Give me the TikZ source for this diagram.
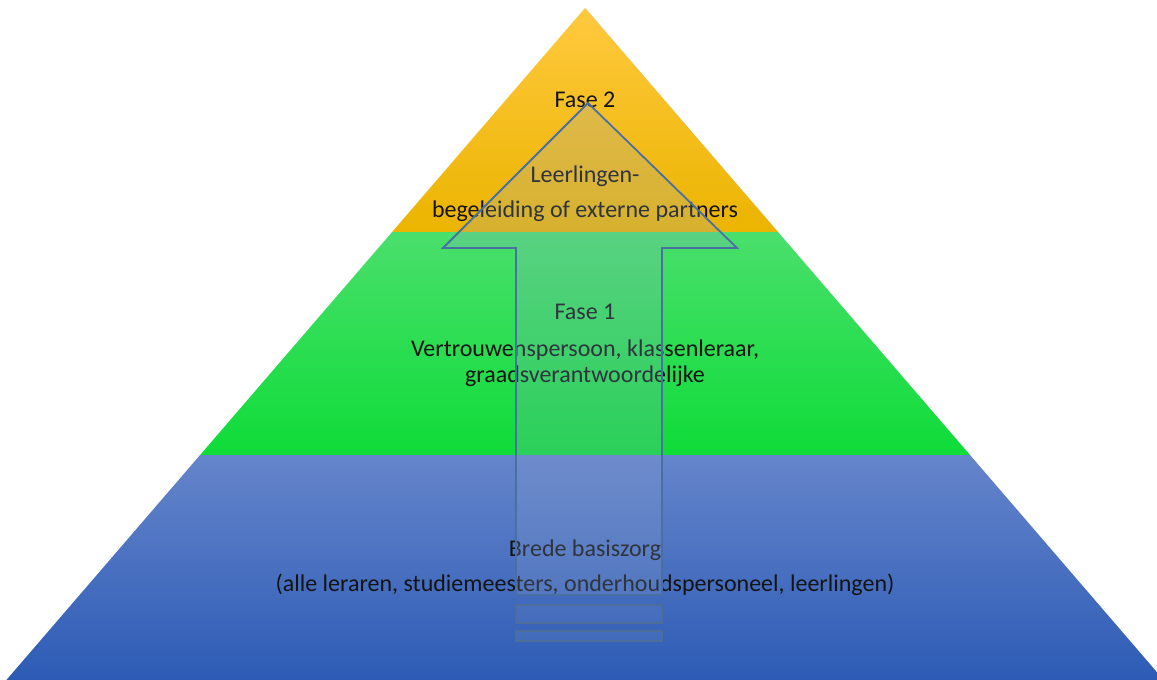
\documentclass[tikz,border=0pt]{standalone}
\usepackage{fontspec}
\setmainfont{Carlito}
\begin{document}
\begin{tikzpicture}[x=1pt,y=-1pt,
  lbl/.style={font=\fontsize{24}{28}\selectfont, text=black!92, inner sep=0pt, anchor=center},
  arrowline/.style={draw=arrowblue, line width=1.8pt, line join=miter},
  stripe/.style={draw=arrowgray, line width=1.8pt}]
\definecolor{orT}{HTML}{FFC93F}
\definecolor{orM}{HTML}{FFC000}
\definecolor{orB}{HTML}{EBB400}
\definecolor{grT}{HTML}{4ADF6C}
\definecolor{grB}{HTML}{0EDC38}
\definecolor{blT}{HTML}{6585CB}
\definecolor{blB}{HTML}{2D5BB5}
\definecolor{arrowblue}{HTML}{4A6FA5}
\definecolor{arrowgray}{HTML}{4D6E98}
\definecolor{arrowfill}{HTML}{8FA6D0}
\useasboundingbox (0,0) rectangle (1157,680);
\begin{scope}
\clip (0,0) rectangle (1157,680);
% shadow
\fill[black!22] (586.5,9.5) -- (1165,681.5) -- (8,681.5) -- cycle;
% bands
\shade[top color=orT, middle color=orM, bottom color=orB] (585,8) -- (777.9,232) -- (392.1,232) -- cycle;
\shade[top color=grT, bottom color=grB] (392.1,232) -- (777.9,232) -- (969.9,455) -- (200.1,455) -- cycle;
\shade[top color=blT, bottom color=blB] (200.1,455) -- (969.9,455) -- (1163.6,680) -- (6.4,680) -- cycle;
\end{scope}
% texts
\node[lbl] (f2) at (585,100) {Fase 2};
\node[lbl] (f2a) at (585,176) {Leerlingen-};
\node[lbl] (f2b) at (585,211) {begeleiding of externe partners};
\node[lbl] (f1) at (585,312) {Fase 1};
\node[lbl] (f1a) at (585,350) {Vertrouwenspersoon, klassenleraar,};
\node[lbl] (f1b) at (585,376) {graadsverantwoordelijke};
\node[lbl] (b0) at (585,550) {Brede basiszorg};
\node[lbl] (b1) at (585,585) {(alle leraren, studiemeesters, onderhoudspersoneel, leerlingen)};
% arrow
\path[arrowline, fill=arrowfill, fill opacity=0.22] (588,103) -- (737,248) -- (662,248) -- (662,595) -- (516,595) -- (516,248) -- (443,248) -- cycle;
\path[stripe, fill=arrowfill, fill opacity=0.12] (516,605) rectangle (662,623);
\path[stripe, fill=arrowfill, fill opacity=0.12] (516,631) rectangle (662,641);
\end{tikzpicture}
\end{document}
